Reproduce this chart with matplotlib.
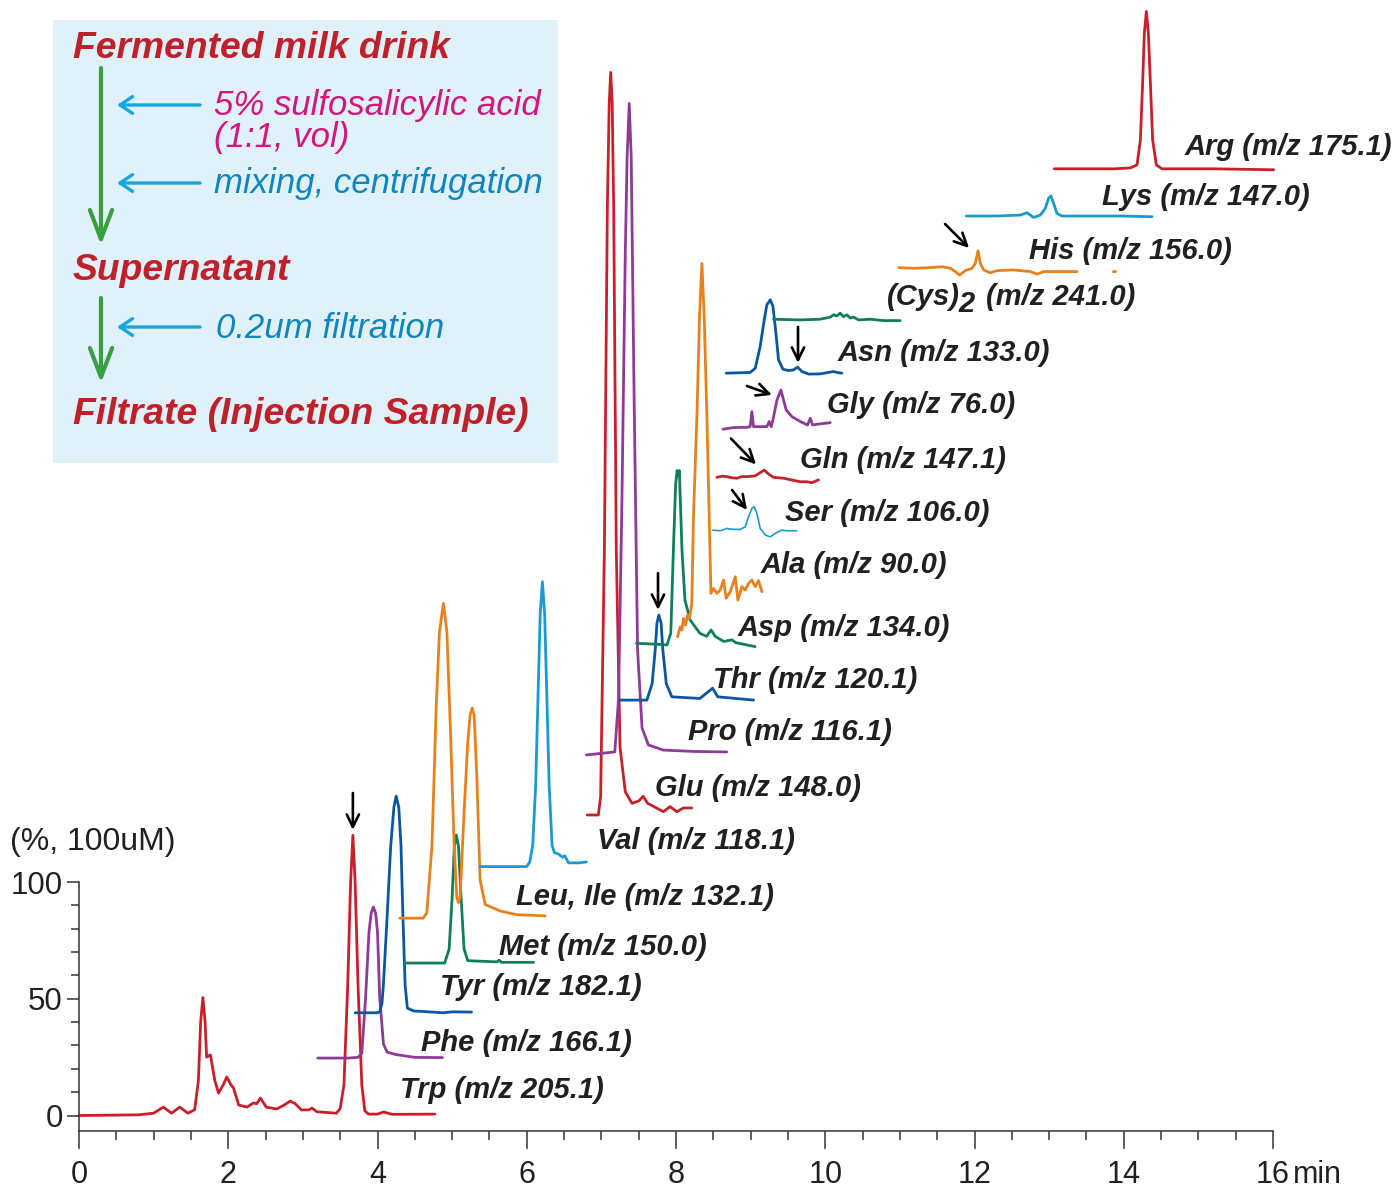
import matplotlib
matplotlib.use('Agg')
import numpy as np
import matplotlib.pyplot as plt
from matplotlib.patches import Rectangle, FancyArrowPatch

plt.rcParams['font.family'] = ['Liberation Sans', 'DejaVu Sans']

# chromatogram traces: (time [min], intensity above own baseline [%])
trp = [(0.00, 0.0), (0.80, 0.3), (1.00, 1.0), (1.13, 3.6), (1.24, 1.0), (1.35, 3.6), (1.46, 1.0),
       (1.55, 2.5), (1.60, 15), (1.63, 40), (1.66, 50.5), (1.69, 40), (1.71, 25), (1.76, 26),
       (1.82, 15), (1.87, 9.6), (1.93, 13), (1.98, 16.5), (2.03, 13.5), (2.07, 11.8), (2.14, 4.5),
       (2.25, 3.6), (2.34, 5.4), (2.38, 5.0), (2.43, 7.5), (2.51, 3.6), (2.65, 2.8), (2.75, 4.5),
       (2.83, 6.2), (2.90, 5.0), (2.98, 2.4), (3.08, 2.4), (3.12, 3.2), (3.19, 1.6), (3.45, 1.0),
       (3.50, 3.0), (3.55, 13), (3.60, 55), (3.64, 100), (3.67, 120), (3.70, 100), (3.74, 55),
       (3.79, 13), (3.83, 2), (3.88, 0.6), (4.00, 0.6), (4.08, 1.5), (4.20, 0.5), (4.77, 0.6)]
phe = [(3.20, 0), (3.60, 0), (3.74, 0.3), (3.79, 2), (3.84, 25.7), (3.886, 54), (3.915, 62),
       (3.945, 64.7), (3.975, 62), (4.00, 54), (4.03, 25.7), (4.08, 6), (4.13, 2.5), (4.25, 1.5),
       (4.50, 0.3), (4.87, 0.2)]
tyr = [(3.70, 0), (4.00, 0), (4.03, 0.5), (4.06, 4), (4.08, 12.4), (4.13, 41.9), (4.177, 71.4),
       (4.22, 88), (4.25, 92.8), (4.285, 88), (4.315, 71.4), (4.34, 41.9), (4.37, 12), (4.40, 2),
       (4.48, 0.8), (4.88, 0), (5.00, 0.4), (5.26, 0.3)]
met = [(4.36, 0), (4.90, 0), (4.96, 6), (5.00, 28), (5.03, 50), (5.055, 54.8), (5.085, 50),
       (5.12, 28), (5.16, 6), (5.21, 1), (5.60, 0.5), (5.63, 1.2), (5.66, 0.3), (6.09, 0.3)]
leu = [(4.30, 0), (4.61, 0), (4.66, 2.2), (4.73, 31), (4.786, 90), (4.83, 122.6), (4.883, 134.8),
       (4.93, 122.6), (4.983, 75.5), (5.027, 31), (5.063, 8.9), (5.084, 6.7), (5.107, 8.9),
       (5.161, 46), (5.21, 75.5), (5.241, 87), (5.268, 90), (5.295, 87), (5.331, 60.6),
       (5.375, 16.4), (5.442, 5.9), (5.643, 3.1), (5.867, 1.5), (6.247, 1.0)]
val = [(5.37, 0), (6.00, 0), (6.04, 2), (6.08, 9), (6.12, 35), (6.15, 72), (6.18, 108),
       (6.21, 122), (6.24, 108), (6.27, 72), (6.30, 35), (6.34, 9), (6.37, 6), (6.42, 5.5),
       (6.48, 4), (6.51, 4.6), (6.56, 1.6), (6.70, 1.6), (6.80, 2)]
glu = [(6.81, 0), (6.96, 0), (6.99, 8), (7.04, 113), (7.08, 260), (7.105, 305), (7.125, 318),
       (7.145, 305), (7.165, 260), (7.20, 113), (7.25, 29), (7.32, 10), (7.41, 5), (7.50, 6),
       (7.56, 8), (7.62, 5), (7.68, 4), (7.83, 1.4), (7.92, 3.6), (8.01, 1.4), (8.10, 3), (8.21, 3)]
pro = [(6.80, 0), (7.18, 1.3), (7.23, 24), (7.275, 108), (7.32, 214), (7.345, 256), (7.373, 279),
       (7.40, 256), (7.44, 150), (7.485, 45), (7.545, 11.6), (7.63, 4.3), (7.83, 2.1),
       (8.24, 1.5), (8.68, 1.3)]
thr = [(7.25, 0), (7.61, 0), (7.68, 7), (7.72, 21), (7.745, 33), (7.77, 36.4), (7.80, 33),
       (7.825, 21), (7.87, 7), (7.945, 1.4), (8.32, 0.7), (8.41, 3), (8.49, 5.1), (8.56, 1.4),
       (9.04, 0)]
asp = [(7.47, 0), (7.70, -0.3), (7.88, -0.7), (7.93, 4.4), (7.965, 40), (7.995, 68), (8.015, 74),
       (8.03, 72), (8.045, 74), (8.08, 40), (8.12, 18.5), (8.19, 10), (8.32, 4.3), (8.41, 3),
       (8.47, 5.7), (8.525, 3), (8.64, 0.8), (8.75, 1.5), (8.80, 0.3), (9.06, -1.4)]
ala = [(8.02, -18.6), (8.056, -14.3), (8.079, -15.7), (8.10, -10.7), (8.127, -13.6),
       (8.154, -9.3), (8.181, -10.7), (8.212, -4.3), (8.234, 32.9), (8.28, 75.7), (8.315, 118.5),
       (8.347, 141.3), (8.378, 118.5), (8.414, 75.7), (8.445, 32.9), (8.468, 0), (8.503, 2.1),
       (8.548, 0), (8.592, 1.4), (8.637, 5.7), (8.673, -2.1), (8.727, 0.7), (8.794, 7.1),
       (8.829, -2.9), (8.883, 2.9), (8.928, 1.4), (8.972, 4.3), (9.017, 5.7), (9.062, 2.9),
       (9.106, 5.5), (9.151, 0.7)]
ser = [(8.494, 0), (8.592, -0.3), (8.682, 0.7), (8.771, 0.3), (8.861, 0.3), (8.928, 1.4),
       (8.972, 5.7), (9.017, 9.3), (9.048, 10), (9.084, 7.1), (9.128, 0.7), (9.196, -2.1),
       (9.263, -2.9), (9.33, -1.4), (9.419, 0), (9.486, -0.3), (9.62, -0.3)]
gln = [(8.548, 0), (8.62, 0.5), (8.682, 0.3), (8.75, -0.2), (8.816, -0.4), (8.88, 0.3),
       (8.95, 0.3), (9.062, 0.6), (9.128, 2), (9.182, 3.1), (9.24, 1.4), (9.307, 0),
       (9.441, -0.4), (9.575, -1.3), (9.665, -1.9), (9.754, -1.9), (9.821, -2.3), (9.91, -1.1)]
gly = [(8.629, -0.4), (8.771, 0.3), (8.95, 0.4), (8.994, 0.7), (9.017, 7.1), (9.039, 0.7),
       (9.218, 0.7), (9.249, 2.9), (9.276, 0.7), (9.299, 3.6), (9.353, 12.1), (9.406, 16.4),
       (9.441, 12.1), (9.477, 7.8), (9.553, 5), (9.665, 2.9), (9.763, 1.4), (9.799, 4.3),
       (9.83, 1.4), (9.933, 1.9), (10.067, 2.4)]
asn = [(8.673, 0), (8.994, 0.3), (9.062, 2.1), (9.128, 11.4), (9.182, 22.8), (9.218, 29.3),
       (9.263, 31.4), (9.299, 28.6), (9.334, 18.6), (9.374, 5.7), (9.433, 1.7), (9.508, 1.1),
       (9.575, 1.4), (9.629, 2.6), (9.688, 0.7), (9.776, -0.4), (9.933, -0.3), (10.111, 0.7),
       (10.16, 0.3), (10.224, 0)]
cys = [(9.307, 0.4), (9.665, 0.1), (9.933, 0.4), (10.067, 1.3), (10.111, 2.3), (10.156, 1.8),
       (10.2, 3), (10.245, 1.5), (10.29, 2.3), (10.335, 0.9), (10.38, 1.3), (10.446, 0.1),
       (10.603, 0.4), (10.782, -0.2), (11.005, -0.2)]
his = [(10.983, 0.3), (11.184, 0), (11.407, 0.3), (11.564, 0.7), (11.676, 0), (11.743, -1.4),
       (11.8, -2.9), (11.877, -1), (11.966, 0), (12.011, 2.1), (12.047, 7.5), (12.078, 2.1),
       (12.122, -0.7), (12.212, -1.9), (12.301, -1), (12.524, -0.7), (12.748, -1.4),
       (12.838, -2.5), (12.926, -1.4), (13.15, -1.4), (13.374, -1.4),
       (np.nan, np.nan), (13.86, -1.4), (13.89, -1.4)]
lys = [(11.89, 0), (12.301, 0), (12.614, 0.4), (12.704, 1.4), (12.792, -0.6), (12.882, 0.4),
       (12.949, 3.3), (12.993, 7.6), (13.025, 8.6), (13.06, 5.4), (13.105, 1.1), (13.172, 0),
       (13.641, 0), (13.954, 0), (14.379, -0.3)]
arg = [(13.07, 0), (13.418, 0), (13.865, 0), (14.089, 0.4), (14.178, 1.7), (14.223, 12.4),
       (14.253, 36.7), (14.276, 58.1), (14.303, 67.4), (14.33, 58.1), (14.357, 36.7),
       (14.387, 12.4), (14.437, 1.7), (14.513, 0), (15.205, 0), (16.01, -0.4)]

traces = [trp, phe, tyr, met, leu, val, glu, pro, thr, asp, ala, ser, gln, gly, asn, cys, his, lys, arg]
offsets = [0, 24.6, 44.0, 65.3, 84.5, 106.6, 128.7, 154.4, 177.9, 202.2, 223.6, 250.7,
           273.3, 294.3, 317.9, 340.6, 362.8, 385.2, 405.4]
labels = ['Trp (m/z 205.1)', 'Phe (m/z 166.1)', 'Tyr (m/z 182.1)', 'Met (m/z 150.0)',
          'Leu, Ile (m/z 132.1)', 'Val (m/z 118.1)', 'Glu (m/z 148.0)', 'Pro (m/z 116.1)',
          'Thr (m/z 120.1)', 'Asp (m/z 134.0)', 'Ala (m/z 90.0)', 'Ser (m/z 106.0)',
          'Gln (m/z 147.1)', 'Gly (m/z 76.0)', 'Asn (m/z 133.0)', None,
          'His (m/z 156.0)', 'Lys (m/z 147.0)', 'Arg (m/z 175.1)']
label_x = [4.30, 4.58, 4.84, 5.63, 5.86, 6.94, 7.72, 8.16, 8.50, 8.83, 9.14, 9.46,
           9.66, 10.02, 10.16, 10.83, 12.73, 13.71, 14.82]
label_y = [10.9, 31.0, 55.0, 72.2, 93.6, 117.6, 140.3, 164.2, 186.5, 208.8, 235.8, 258.0,
           280.7, 304.3, 326.6, 350.5, 370.3, 393.4, 414.8]

# peaks marked with arrows: (tail time, tail level) -> (head time, head level)
mark_tail = [(3.67, 138.1), (7.759, 232.3), (9.635, 337.7), (8.951, 312.4), (8.737, 289.9),
             (8.751, 267.9), (11.605, 381.8)]
mark_head = [(3.67, 122.3), (7.759, 216.5), (9.635, 322.3), (9.286, 308.6), (9.072, 278.8),
             (8.952, 259.3), (11.927, 371.5)]

palette = ['#c91f2b', '#8e3a98', '#0a56a0', '#0e8056', '#e8801e', '#1a9ad2']
label_color = '#231f20'

W, H = 1396, 1188
fig = plt.figure(figsize=(W / 100, H / 100), dpi=100)
ax = fig.add_axes([79 / W, 1 - 1130.7 / H, (1273 - 79) / W, 1130.7 / H])
ax.patch.set_visible(False)

for i, (tr, off) in enumerate(zip(traces, offsets)):
    t = np.array([p[0] for p in tr], dtype=float)
    v = np.array([p[1] for p in tr], dtype=float)
    lw = 1.2 if tr is ser else 2.0
    ax.plot(t, v + off, color=palette[i % 6], lw=lw, clip_on=False,
            solid_joinstyle='round', solid_capstyle='round')

lab_kw = dict(fontsize=21, fontweight='bold', fontstyle='italic', color=label_color,
              ha='left', va='center')
for lab, x, y in zip(labels, label_x, label_y):
    if lab is not None:
        ax.text(x, y, lab, **lab_kw)
# (Cys)2 label with lowered 2
ax.text(10.83, 350.5, '(Cys)', **lab_kw)
ax.text(11.78, 347.5, '2', **lab_kw)
ax.text(12.15, 350.5, '(m/z 241.0)', **lab_kw)

for tail, head in zip(mark_tail, mark_head):
    ax.annotate('', xy=head, xytext=tail,
                arrowprops=dict(arrowstyle='->,head_length=0.45,head_width=0.22',
                                color='black', lw=1.9, shrinkA=0, shrinkB=0, mutation_scale=20))

ax.set_xlim(0, 16)
ax.set_ylim(-6.5, 477.7)
for s in ['top', 'right']:
    ax.spines[s].set_visible(False)
ax.spines['left'].set_bounds(-6.5, 100)
for s in ['left', 'bottom']:
    ax.spines[s].set_linewidth(1.1)
    ax.spines[s].set_color('#333333')

ax.set_xticks(range(0, 17, 2))
ax.set_xticks(np.arange(0, 16.01, 0.5), minor=True)
ax.set_yticks([0, 50, 100])
ax.set_yticks(range(0, 101, 10), minor=True)
ax.tick_params(axis='x', which='major', length=13, width=1.1, color='#333333',
               labelsize=22, pad=8, labelcolor='#231f20')
ax.tick_params(axis='x', which='minor', length=6.5, width=1.1, color='#333333')
ax.tick_params(axis='y', which='major', length=8.6, width=1.1, color='#333333',
               labelsize=22.5, pad=3, labelcolor='#231f20')
ax.tick_params(axis='y', which='minor', length=5.8, width=1.1, color='#333333')

ax.text(16.27, -28.9, 'min', fontsize=22, color='#231f20', ha='left', va='baseline', clip_on=False)
ax.text(-0.925, 117.1, '(%, 100uM)', fontsize=23, color='#231f20', ha='left', va='center',
        clip_on=False)

# sample preparation box
fig.add_artist(Rectangle((53 / W, 1 - 463 / H), 505 / W, 443 / H, transform=fig.transFigure,
                         facecolor='#e0f1f9', edgecolor='none', zorder=0.5))

red_txt = '#c0202a'
mag_txt = '#d4157b'
blue_txt = '#0f86c0'
green_arr = '#3a9e45'
blue_arr = '#17a7df'


def ftext(px, py, s, **kw):
    fig.text(px / W, 1 - py / H, s, ha='left', va='center', fontstyle='italic', **kw)


ftext(73, 49, 'Fermented milk drink', fontsize=26.8, fontweight='bold', color=red_txt)
ftext(73, 270, 'Supernatant', fontsize=26.8, fontweight='bold', color=red_txt)
ftext(73, 414, 'Filtrate (Injection Sample)', fontsize=26.8, fontweight='bold', color=red_txt)
ftext(214, 106, '5% sulfosalicylic acid', fontsize=25, color=mag_txt)
ftext(214, 138, '(1:1, vol)', fontsize=25, color=mag_txt)
ftext(214, 184, 'mixing, centrifugation', fontsize=25, color=blue_txt)
ftext(216, 329, '0.2um filtration', fontsize=25, color=blue_txt)

for (x1, y1, x2, y2) in [(101, 68, 101, 245), (101, 298, 101, 383)]:
    fig.add_artist(FancyArrowPatch((x1 / W, 1 - y1 / H), (x2 / W, 1 - y2 / H),
                                   transform=fig.transFigure,
                                   arrowstyle='->,head_length=1.05,head_width=0.4',
                                   mutation_scale=20, lw=3.0, color=green_arr,
                                   shrinkA=0, shrinkB=0, capstyle='round', joinstyle='round'))
for py in [105, 183, 327]:
    fig.add_artist(FancyArrowPatch((200 / W, 1 - py / H), (117 / W, 1 - py / H),
                                   transform=fig.transFigure,
                                   arrowstyle='->,head_length=0.45,head_width=0.3',
                                   mutation_scale=20, lw=2.4, color=blue_arr,
                                   shrinkA=0, shrinkB=0))

fig.savefig('out.png', dpi=100)
